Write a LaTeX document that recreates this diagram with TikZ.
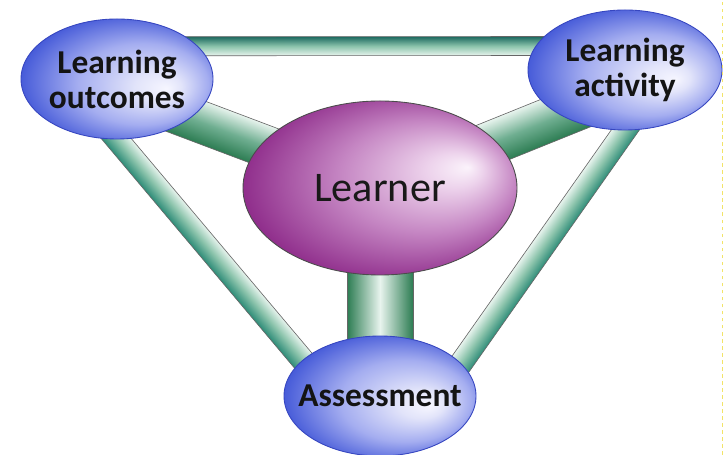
\documentclass[tikz,border=0pt]{standalone}
\usepackage{fontspec}
\setmainfont{Carlito}
\usetikzlibrary{backgrounds,shapes.geometric}

\definecolor{ringblue}{HTML}{3646C0}
\definecolor{glowwhite}{HTML}{F6F6FF}
\definecolor{bluelight}{HTML}{E2E4FA}
\definecolor{bluemid}{HTML}{A4ADF0}
\definecolor{bluedeep}{HTML}{3C52D6}
\definecolor{pinkwhite}{HTML}{FBF3FB}
\definecolor{pinklight}{HTML}{EDD3EC}
\definecolor{mauve}{HTML}{C586C3}
\definecolor{plum}{HTML}{8C2888}
\definecolor{tubegreen}{HTML}{2C7C52}
\definecolor{tubeteal}{HTML}{2E8C78}
\definecolor{tubedark}{HTML}{1D6A60}
\definecolor{tubelight}{HTML}{E8F4EE}
\definecolor{tubemid}{HTML}{8CC4AC}
\definecolor{edgeyellow}{HTML}{F2E468}

% the shading box is stretched past the ellipse, so the rim sits near 35bp
\pgfdeclareradialshading{blueglow}{\pgfpoint{13bp}{-4bp}}{color(0bp)=(glowwhite); color(6bp)=(bluelight); color(17bp)=(bluemid); color(29bp)=(bluedeep); color(35bp)=(bluedeep)}
\pgfdeclareradialshading{purpleglow}{\pgfpoint{16bp}{6bp}}{color(0bp)=(pinkwhite); color(5bp)=(pinklight); color(16bp)=(mauve); color(29bp)=(plum); color(35bp)=(plum)}

\tikzset{
  goal/.style={ellipse, draw=ringblue, line width=0.5pt, shade, shading=blueglow,
    inner xsep=-0.5cm, inner ysep=0pt, minimum width=3.84cm, minimum height=2.4cm,
    align=center, text=black!92, font=\fontsize{19}{20}\selectfont\bfseries},
  core/.style={ellipse, draw=black!70, line width=0.5pt, shade, shading=purpleglow,
    inner sep=0pt, minimum width=5.48cm, minimum height=3.48cm,
    text=black!90, font=\fontsize{24}{26}\selectfont},
  tube/.style={draw=black!60, line width=0.35pt}
}

% a straight pipe of width #4 from (#2) to (#3), running 0.8cm past both ends
\def\tube[#1](#2)(#3)(#4){%
  \path (#2) coordinate (tube-a) (#3) coordinate (tube-b);
  \pgfpointanchor{tube-a}{center}\pgfgetlastxy\tubeax\tubeay
  \pgfpointanchor{tube-b}{center}\pgfgetlastxy\tubebx\tubeby
  \pgfmathsetmacro\tubeangle{atan2(\tubeby-\tubeay,\tubebx-\tubeax)}
  \pgfmathsetmacro\tubelength{veclen(\tubebx-\tubeax,\tubeby-\tubeay)}
  \begin{scope}[transform canvas={shift={(tube-a)},rotate=\tubeangle}]
    \path[tube,#1] (-0.8cm,-#4/2) rectangle ({\tubelength pt+0.8cm},#4/2);
  \end{scope}}

\begin{document}
\begin{tikzpicture}
	%%%%% START %%%%%
	\useasboundingbox (0,0) rectangle (14.5,9.1);
	
	\node[goal] (outcomes) at (2.34,7.52) {Learning\\outcomes};
	\node[goal, minimum width=3.88cm] (activity) at (12.5,7.7) {Learning\\activity};
	\node[core] (learner) at (7.6,5.34) {Learner};
	\node[goal] (assess) at (7.6,1.18) {Assessment};
	
	%%%%% PIPES %%%%%
	\begin{pgfonlayer}{background}
		\fill[white] (0,0) rectangle (14.5,9.1);
		\tube[top color=tubedark, bottom color=tubelight, middle color=tubemid](outcomes.22)(activity.165)(0.38cm);
		\tube[top color=tubelight, bottom color=tubegreen, middle color=tubemid!70!tubegreen](outcomes.332)(learner.160)(0.84cm);
		\tube[top color=tubelight, bottom color=tubegreen, middle color=tubemid!70!tubegreen](learner.center)(activity.215)(0.88cm);
		\tube[top color=tubegreen, bottom color=tubegreen, middle color=tubelight](learner.center)(assess.center)(1.32cm);
		\tube[top color=tubelight, bottom color=tubeteal, middle color=tubemid](outcomes.south)(assess.155)(0.46cm);
		\tube[top color=tubeteal, bottom color=tubelight, middle color=tubemid](activity.south)(assess.22)(0.46cm);
	\end{pgfonlayer}
	
	\draw[edgeyellow, dash pattern=on 2pt off 2pt, line width=0.6pt] (14.45,0) -- (14.45,9.1);
	%%%%% END %%%%%
\end{tikzpicture}
\end{document}
